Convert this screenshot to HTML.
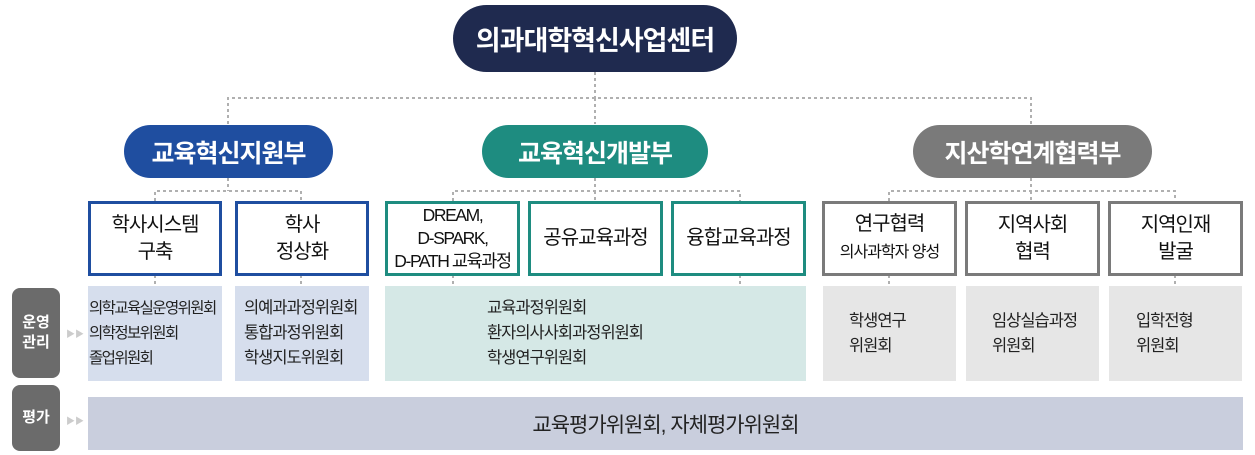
<!DOCTYPE html>
<html><head><meta charset="utf-8"><style>
body{margin:0;width:1255px;height:455px;background:#fff;position:relative;overflow:hidden;font-family:"Liberation Sans","Noto Sans CJK KR",sans-serif;}
.a{position:absolute;box-sizing:border-box;display:flex;align-items:center;justify-content:center;text-align:center;white-space:nowrap;}
.pill{border-radius:30px;color:#fff;font-weight:bold;font-size:25px;letter-spacing:-1px;}
.bx{background:#fff;border:3px solid;font-size:20px;line-height:27px;color:#111;letter-spacing:-1px;}
.bl{border-color:#1f4ea0}.tl{border-color:#1e8c80}.gr{border-color:#7a7a7a}
.blk{font-size:16.5px;line-height:25px;color:#222;letter-spacing:-1px;}
.lab{background:#6b6b6b;color:#fff;border-radius:8px;font-weight:bold;font-size:15px;line-height:20px;}
.arr{position:absolute;color:#ccc;font-size:9px;}
</style></head><body>
<svg width="1255" height="455" style="position:absolute;left:0;top:0">
<g stroke="#b0b0b0" stroke-width="2" stroke-dasharray="3,3" fill="none">
<path d="M595 72V98M228 124V98H1031V124M595 98V124"/>
<path d="M228 178V191M155 201V191H301V201M155 275V286M301 275V286"/>
<path d="M595 178V191M453 201V191H740V201M595 191V201M453 275V286M740 275V286"/>
<path d="M1031 178V191M889 201V191H1175V201M1031 191V201M889 275V286M1175 275V286"/>
</g></svg>
<div class="a pill" style="left:453px;top:5px;width:284px;height:67px;background:#1f2a4f;border-radius:34px;font-size:27px">의과대학혁신사업센터</div>
<div class="a pill" style="left:124px;top:125px;width:209px;height:53px;background:#1f4ea0">교육혁신지원부</div>
<div class="a pill" style="left:482px;top:125px;width:226px;height:53px;background:#1e8c80">교육혁신개발부</div>
<div class="a pill" style="left:913px;top:125px;width:239px;height:53px;background:#7a7a7a">지산학연계협력부</div>

<div class="a bx bl" style="left:88px;top:201px;width:134px;height:75px"><div>학사시스템<br>구축</div></div>
<div class="a bx bl" style="left:235px;top:201px;width:134px;height:75px"><div>학사<br>정상화</div></div>
<div class="a bx tl" style="left:385px;top:201px;width:135px;height:75px;font-size:17.5px;line-height:23px;letter-spacing:-1.4px"><div>DREAM,<br>D-SPARK,<br>D-PATH 교육과정</div></div>
<div class="a bx tl" style="left:528px;top:201px;width:135px;height:75px"><div>공유교육과정</div></div>
<div class="a bx tl" style="left:671px;top:201px;width:135px;height:75px"><div>융합교육과정</div></div>
<div class="a bx gr" style="left:822px;top:201px;width:135px;height:75px"><div>연구협력<br><span style="font-size:16px">의사과학자 양성</span></div></div>
<div class="a bx gr" style="left:965px;top:201px;width:135px;height:75px"><div>지역사회<br>협력</div></div>
<div class="a bx gr" style="left:1108px;top:201px;width:135px;height:75px"><div>지역인재<br>발굴</div></div>

<div class="a blk" style="left:88px;top:286px;width:134px;height:95px;background:#d6deed;justify-content:flex-start;text-align:left;padding-left:1px;letter-spacing:-1.6px;font-size:15.5px"><div>의학교육실운영위원회<br>의학정보위원회<br>졸업위원회</div></div>
<div class="a blk" style="left:235px;top:286px;width:134px;height:95px;background:#d6deed;justify-content:flex-start;text-align:left;padding-left:9px"><div>의예과과정위원회<br>통합과정위원회<br>학생지도위원회</div></div>
<div class="a blk" style="left:385px;top:286px;width:421px;height:95px;background:#d5e8e6;justify-content:flex-start;text-align:left;padding-left:102px"><div>교육과정위원회<br>환자의사사회과정위원회<br>학생연구위원회</div></div>
<div class="a blk" style="left:823px;top:286px;width:133px;height:95px;background:#e6e6e6;justify-content:flex-start;text-align:left;padding-left:26px"><div>학생연구<br>위원회</div></div>
<div class="a blk" style="left:966px;top:286px;width:133px;height:95px;background:#e6e6e6;justify-content:flex-start;text-align:left;padding-left:26px"><div>임상실습과정<br>위원회</div></div>
<div class="a blk" style="left:1109px;top:286px;width:133px;height:95px;background:#e6e6e6;justify-content:flex-start;text-align:left;padding-left:27px"><div>입학전형<br>위원회</div></div>

<div class="a" style="left:88px;top:397px;width:1155px;height:53px;background:#c9cedd;font-size:21px;color:#222;letter-spacing:-1px">교육평가위원회, 자체평가위원회</div>

<div class="a lab" style="left:12px;top:288px;width:48px;height:90px"><div>운영<br>관리</div></div>
<div class="a lab" style="left:12px;top:385px;width:48px;height:66px">평가</div>
<div class="arr" style="left:66px;top:327px">▶▶</div>
<div class="arr" style="left:66px;top:414px">▶▶</div>
</body></html>
